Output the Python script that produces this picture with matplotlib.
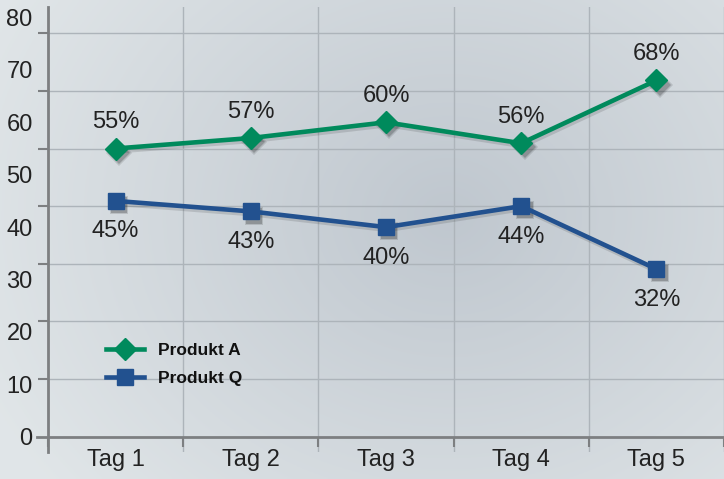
import numpy as np
import matplotlib
matplotlib.use("Agg")
import matplotlib.pyplot as plt
import matplotlib.patheffects as pe
import matplotlib.transforms as mtransforms
from matplotlib.lines import Line2D

plt.rcParams['font.family'] = ['Liberation Sans', 'DejaVu Sans']

# data
days = ['Tag 1', 'Tag 2', 'Tag 3', 'Tag 4', 'Tag 5']
produkt_a = [55, 57, 60, 56, 68]
produkt_q = [45, 43, 40, 44, 32]
y_labels = [0, 10, 20, 30, 40, 50, 60, 70, 80]
grid_levels = [11, 22, 33, 44, 55, 66, 77]

green = '#008a5c'
blue = '#22518f'
axis_gray = '#7d7f81'
grid_gray = '#adb4ba'
text_col = '#222222'

fig = plt.figure(figsize=(7.24, 4.79), dpi=100)

# background gradient
bg = fig.add_axes([0, 0, 1, 1], zorder=-10)
xx, yy = np.meshgrid(np.linspace(0, 1, 300), np.linspace(0, 1, 200))
d = np.sqrt(((xx - 0.62) / 0.7) ** 2 + ((yy - 0.55) / 0.9) ** 2)
shade = np.clip(d, 0, 1)
c_dark = np.array([0.75, 0.78, 0.81])
c_light = np.array([0.88, 0.90, 0.91])
img = c_dark[None, None, :] + (c_light - c_dark)[None, None, :] * shade[..., None]
bg.imshow(img, aspect='auto', extent=[0, 1, 0, 1], origin='lower')
bg.axis('off')

ax = fig.add_axes([0.0663, 0.0564, 0.9337, 0.929])
ax.patch.set_alpha(0)
x = np.arange(len(days))
ax.set_xlim(-0.5, 4.5)
ax.set_ylim(-2.9, 82)

line_fx = [pe.SimpleLineShadow(offset=(1, -2), shadow_color='black', alpha=0.12), pe.Normal()]
shadow_tr = ax.transData + mtransforms.ScaledTranslation(2.5 / 72, -3 / 72, fig.dpi_scale_trans)

for vals, col, mk, ms, name in [(produkt_a, green, 'D', 11, 'Produkt A'),
                                (produkt_q, blue, 's', 11.5, 'Produkt Q')]:
    ax.plot(x, vals, color=col, lw=3.3, zorder=5, path_effects=line_fx)
    # soft marker shadow
    ax.plot(x, vals, lw=0, marker=mk, markersize=ms + 2, color='black', alpha=0.12,
            markeredgewidth=0, transform=shadow_tr, zorder=4.5)
    ax.plot(x, vals, lw=0, marker=mk, markersize=ms, color='black', alpha=0.2,
            markeredgewidth=0, transform=shadow_tr, zorder=4.6)
    ax.plot(x, vals, color=col, lw=0, marker=mk, markersize=ms, zorder=6)
    # legend proxy
    ax.plot([], [], color=col, lw=3.3, marker=mk, markersize=ms, label=name)

for xi, v in zip(x, produkt_a):
    ax.annotate(f'{v}%', (xi, v), xytext=(0, 19), textcoords='offset points',
                ha='center', va='center', fontsize=17, color=text_col)
for xi, v in zip(x, produkt_q):
    ax.annotate(f'{v}%', (xi, v), xytext=(0, -22), textcoords='offset points',
                ha='center', va='center', fontsize=17, color=text_col)

# grid lines
for g in grid_levels:
    ax.axhline(g, color=grid_gray, lw=1, zorder=1)
for b in np.arange(0.5, 4.6, 1.0):
    ax.axvline(b, color=grid_gray, lw=1, zorder=1)

# axes
for s in ['top', 'right']:
    ax.spines[s].set_visible(False)
ax.spines['bottom'].set_visible(False)
ax.spines['left'].set_color(axis_gray)
ax.spines['left'].set_linewidth(2)
ax.add_line(Line2D([-0.017, 1.0], [0, 0], color=axis_gray, lw=2,
                   transform=ax.get_yaxis_transform(), clip_on=False, zorder=3))

ax.set_yticks(y_labels)
ax.set_yticklabels([str(v) for v in y_labels])
ax.set_yticks([0] + grid_levels, minor=True)
ax.tick_params(axis='y', which='major', length=0, pad=11, labelsize=17, labelcolor=text_col)
ax.tick_params(axis='y', which='minor', length=7, width=1.5, color=axis_gray)

ax.set_xticks(x)
ax.set_xticklabels(days)
ax.set_xticks(np.arange(-0.5, 4.6, 1.0), minor=True)
ax.tick_params(axis='x', which='major', length=0, pad=9, labelsize=17, labelcolor=text_col)
ax.tick_params(axis='x', which='minor', length=7, width=1.5, color=axis_gray, direction='out')
ax.xaxis.set_ticks_position('bottom')
ax.spines['bottom'].set_position(('data', 0))

leg = ax.legend(loc='upper left', bbox_to_anchor=(0.062, 0.28), frameon=False,
                prop={'weight': 'bold', 'size': 12.5}, handlelength=2.2,
                labelspacing=0.75, handletextpad=0.8)
for t in leg.get_texts():
    t.set_color('#111111')

fig.savefig('out.png', dpi=100)
